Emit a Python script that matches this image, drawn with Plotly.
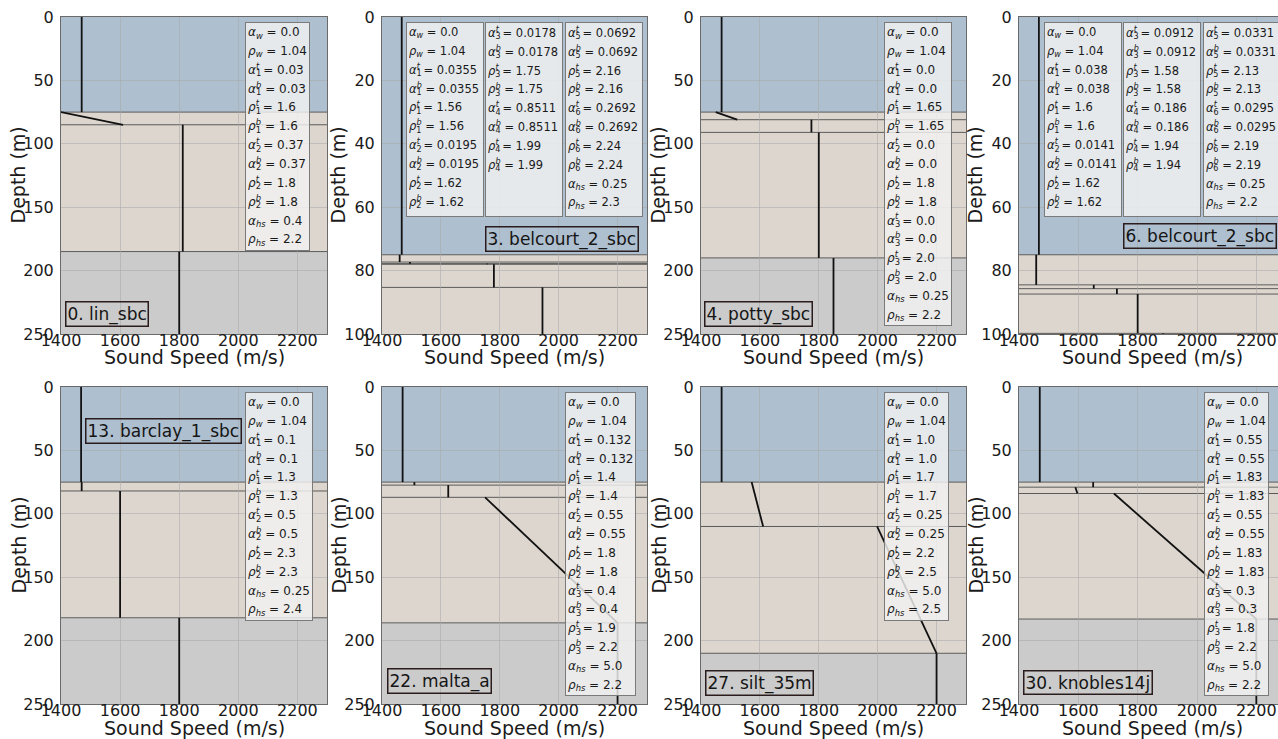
import plotly.graph_objects as go

FIG_W, FIG_H = 1278, 739

# ---------------------------------------------------------------- data
panel_names = ["0. lin_sbc", "3. belcourt_2_sbc", "4. potty_sbc", "6. belcourt_2_sbc",
               "13. barclay_1_sbc", "22. malta_a", "27. silt_35m", "30. knobles14j"]

depth_max = [250, 100, 250, 100, 250, 250, 250, 250]
depth_ticks = [[0, 50, 100, 150, 200, 250], [0, 20, 40, 60, 80, 100],
               [0, 50, 100, 150, 200, 250], [0, 20, 40, 60, 80, 100],
               [0, 50, 100, 150, 200, 250], [0, 50, 100, 150, 200, 250],
               [0, 50, 100, 150, 200, 250], [0, 50, 100, 150, 200, 250]]
speed_ticks = [1400, 1600, 1800, 2000, 2200]

water_depth = [75, 75, 75, 75, 75, 75, 75, 75]
water_speed = [1470, 1467, 1470, 1467, 1468, 1470, 1470, 1470]

# depth of the bottom of each sediment layer (last one = top of the halfspace)
layer_bottom = [
    [85, 185],
    [77.3, 77.8, 78.0, 85.3, 112, 140],
    [81, 91, 190],
    [84.5, 85.7, 87.4, 99.8, 115, 135],
    [82, 182],
    [77.4, 87, 186],
    [110, 210],
    [79, 84, 183],
]
speed_top = [
    [1400, 1812],
    [1460, 1495, 1757, 1780, 1945, 2050],
    [1450, 1775, 1800],
    [1458, 1652, 1730, 1800, 1886, 1950],
    [1470, 1600],
    [1510, 1625, 1750],
    [1572, 1998],
    [1650, 1590, 1720],
]
speed_bottom = [
    [1610, 1812],
    [1460, 1495, 1757, 1780, 1945, 2050],
    [1523, 1775, 1800],
    [1458, 1652, 1730, 1800, 1886, 1950],
    [1470, 1600],
    [1510, 1625, 2200],
    [1611, 2200],
    [1650, 1597, 2200],
]
speed_halfspace = [1800, 2100, 1850, 2000, 1800, 2200, 2200, 2200]

alpha_water = [0.0, 0.0, 0.0, 0.0, 0.0, 0.0, 0.0, 0.0]
rho_water = [1.04, 1.04, 1.04, 1.04, 1.04, 1.04, 1.04, 1.04]
alpha_top = [
    [0.03, 0.37],
    [0.0355, 0.0195, 0.0178, 0.8511, 0.0692, 0.2692],
    [0.0, 0.0, 0.0],
    [0.038, 0.0141, 0.0912, 0.186, 0.0331, 0.0295],
    [0.1, 0.5],
    [0.132, 0.55, 0.4],
    [1.0, 0.25],
    [0.55, 0.55, 0.3],
]
alpha_bottom = [
    [0.03, 0.37],
    [0.0355, 0.0195, 0.0178, 0.8511, 0.0692, 0.2692],
    [0.0, 0.0, 0.0],
    [0.038, 0.0141, 0.0912, 0.186, 0.0331, 0.0295],
    [0.1, 0.5],
    [0.132, 0.55, 0.4],
    [1.0, 0.25],
    [0.55, 0.55, 0.3],
]
rho_top = [
    [1.6, 1.8],
    [1.56, 1.62, 1.75, 1.99, 2.16, 2.24],
    [1.65, 1.8, 2.0],
    [1.6, 1.62, 1.58, 1.94, 2.13, 2.19],
    [1.3, 2.3],
    [1.4, 1.8, 1.9],
    [1.7, 2.2],
    [1.83, 1.83, 1.8],
]
rho_bottom = [
    [1.6, 1.8],
    [1.56, 1.62, 1.75, 1.99, 2.16, 2.24],
    [1.65, 1.8, 2.0],
    [1.6, 1.62, 1.58, 1.94, 2.13, 2.19],
    [1.3, 2.3],
    [1.4, 1.8, 2.2],
    [1.7, 2.5],
    [1.83, 1.83, 2.2],
]
alpha_hs = [0.4, 0.25, 0.25, 0.25, 0.25, 5.0, 5.0, 5.0]
rho_hs = [2.2, 2.3, 2.2, 2.2, 2.4, 2.2, 2.5, 2.2]

# ---------------------------------------------------------------- layout (pixels)
col_left = [61, 382, 701, 1019]
col_right = [327, 647, 966, 1286]
row_top = [17, 387]
row_bottom = [334, 704]
ytitle_x = [18, 338, 658, 975]
xtitle_y = [357, 728]
SPEED_MIN, SPEED_MAX = 1400, 2300

WATER_COLOR = "#aebfcf"
SEDIMENT_COLOR = "#ddd6ce"
HALFSPACE_COLOR = "#cbcbcb"
INTERFACE_COLOR = "#5a5a5a"
TEXT_COLOR = "#1a1a1a"
FONT = "DejaVu Sans"

# left edge (speed units) of the parameter boxes
param_box_x = [[2023], [1483, 1751, 2021], [2023], [1483, 1751, 2021],
               [2023], [2023], [2023], [2023]]
# label anchor: x (speed), y (depth), vertical anchor
label_pos = [(1414, 244.5, "bottom"), (1751, 74.0, "bottom"), (1410, 244.5, "bottom"),
             (1750, 73.2, "bottom"), (1481, 35.0, "middle"), (1418, 242.0, "bottom"),
             (1415, 243.5, "bottom"), (1415, 243.0, "bottom")]


def sym(greek, sub, sup=None):
    if sup is None:
        return f"<i>{greek}</i><sub><i>{sub}</i></sub>"
    return (f"<i>{greek}</i><sub><span style='letter-spacing:-0.62em'>{sub}</span></sub>"
            f"<sup><i>{sup}</i></sup>")


def entry(s, v, size):
    return f"<span style='font-size:{size}px'>{s} = {v}</span>"


def param_lines(i, size):
    out = [entry(sym("α", "w"), alpha_water[i], size), entry(sym("ρ", "w"), rho_water[i], size)]
    for k in range(len(alpha_top[i])):
        n = k + 1
        out += [entry(sym("α", n, "t"), alpha_top[i][k], size),
                entry(sym("α", n, "b"), alpha_bottom[i][k], size),
                entry(sym("ρ", n, "t"), rho_top[i][k], size),
                entry(sym("ρ", n, "b"), rho_bottom[i][k], size)]
    out += [entry(sym("α", "hs"), alpha_hs[i], size), entry(sym("ρ", "hs"), rho_hs[i], size)]
    return out


fig = go.Figure()
shapes = []
annotations = []
layout_axes = {}

for i in range(8):
    row, col = divmod(i, 4)
    sfx = "" if i == 0 else str(i + 1)
    xa, ya = "x" + sfx, "y" + sfx
    left_px = col_left[col]
    right_px = min(col_right[col], FIG_W)
    x_end = SPEED_MIN + (right_px - left_px) / (col_right[col] - left_px) * (SPEED_MAX - SPEED_MIN)
    axis_h = row_bottom[row] - row_top[row]

    layout_axes["xaxis" + sfx] = dict(
        domain=[left_px / FIG_W, right_px / FIG_W], anchor=ya, range=[SPEED_MIN, x_end],
        tickvals=speed_ticks, ticks="", ticklabelstandoff=-8,
        showgrid=True, gridcolor="rgba(170,170,170,0.55)", gridwidth=1, zeroline=False,
        showline=True, mirror=True, linecolor="#6a6a6a", linewidth=1,
        tickfont=dict(family=FONT, size=16, color=TEXT_COLOR),
        automargin=False, fixedrange=True,
    )
    layout_axes["yaxis" + sfx] = dict(
        domain=[1 - row_bottom[row] / FIG_H, 1 - row_top[row] / FIG_H], anchor=xa,
        range=[depth_max[i], 0], tickvals=depth_ticks[i], ticks="", ticklabelstandoff=3,
        showgrid=True, gridcolor="rgba(170,170,170,0.55)", gridwidth=1, zeroline=False,
        showline=True, mirror=True, linecolor="#6a6a6a", linewidth=1,
        tickfont=dict(family=FONT, size=16, color=TEXT_COLOR),
        automargin=False, fixedrange=True,
    )

    # axis titles
    annotations.append(dict(
        text="Sound Speed (m/s)", xref="paper", yref="paper",
        x=(col_left[col] + col_right[col]) / 2 / FIG_W, y=1 - xtitle_y[row] / FIG_H,
        xanchor="center", yanchor="middle", showarrow=False,
        font=dict(family=FONT, size=19, color=TEXT_COLOR)))
    annotations.append(dict(
        text="Depth (m)", xref="paper", yref="paper", textangle=-90,
        x=ytitle_x[col] / FIG_W, y=1 - (row_top[row] + row_bottom[row]) / 2 / FIG_H,
        xanchor="center", yanchor="middle", showarrow=False,
        font=dict(family=FONT, size=19, color=TEXT_COLOR)))

    # water column, sediment stack and halfspace bands
    hs_top = layer_bottom[i][-1]
    bands = [(0, water_depth[i], WATER_COLOR),
             (water_depth[i], hs_top, SEDIMENT_COLOR),
             (hs_top, max(depth_max[i], hs_top) * 2, HALFSPACE_COLOR)]
    for y0, y1, c in bands:
        shapes.append(dict(type="rect", xref=xa + " domain", yref=ya, x0=0, x1=1,
                           y0=y0, y1=min(y1, depth_max[i]), fillcolor=c, line_width=0,
                           layer="below"))
    for z in [water_depth[i]] + layer_bottom[i]:
        if z <= depth_max[i]:
            shapes.append(dict(type="line", xref=xa + " domain", yref=ya, x0=0, x1=1,
                               y0=z, y1=z, line=dict(color=INTERFACE_COLOR, width=1),
                               layer="below"))

    # sound-speed profile, one segment per layer
    xs = [water_speed[i], water_speed[i], None]
    ys = [0, water_depth[i], None]
    tops = [water_depth[i]] + layer_bottom[i][:-1]
    for k, (zt, zb) in enumerate(zip(tops, layer_bottom[i])):
        xs += [speed_top[i][k], speed_bottom[i][k], None]
        ys += [zt, zb, None]
    xs += [speed_halfspace[i], speed_halfspace[i]]
    ys += [hs_top, depth_max[i] * 2]
    fig.add_trace(go.Scatter(x=xs, y=ys, mode="lines", xaxis=xa, yaxis=ya,
                             line=dict(color="#111111", width=1.8),
                             showlegend=False, hoverinfo="skip"))

    # parameter boxes
    box_top = 1 - 5 / axis_h
    box_style = dict(font=dict(family=FONT, size=14.5, color=TEXT_COLOR),
                     bgcolor="rgba(242,242,242,0.82)", bordercolor="#7a7a7a",
                     borderwidth=1, borderpad=2, showarrow=False, align="left",
                     xanchor="left", yanchor="top")
    if len(param_box_x[i]) == 1:
        lines = param_lines(i, 12)
        annotations.append(dict(
            text="<br>".join(lines), xref=xa, yref=ya + " domain", x=param_box_x[i][0],
            y=box_top, **box_style))
    else:
        lines = param_lines(i, 11.5)
        chunks = [lines[:10], lines[10:18], lines[18:]]
        for bx, chunk in zip(param_box_x[i], chunks):
            annotations.append(dict(
                text="<br>".join(chunk), xref=xa, yref=ya + " domain", x=bx,
                y=box_top, valign="top", width=72, height=189, **box_style))

    # dataset label
    lx, ly, lya = label_pos[i]
    annotations.append(dict(
        text=panel_names[i], xref=xa, yref=ya, x=lx, y=ly, xanchor="left", yanchor=lya,
        showarrow=False, font=dict(family=FONT, size=17, color="#151515"),
        bgcolor="rgba(0,0,0,0)", bordercolor="#2a1c1c", borderwidth=1.5, borderpad=1))

fig.update_layout(
    width=FIG_W, height=FIG_H, margin=dict(l=0, r=0, t=0, b=0),
    paper_bgcolor="white", plot_bgcolor="white", showlegend=False,
    shapes=shapes, annotations=annotations, **layout_axes,
)

fig.write_html("out.html")
